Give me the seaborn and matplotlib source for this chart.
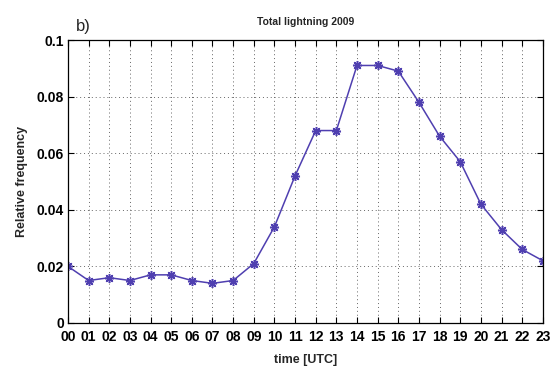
import matplotlib
matplotlib.use("Agg")
import matplotlib.pyplot as plt
import seaborn as sns
import pandas as pd

hours = ["00", "01", "02", "03", "04", "05", "06", "07", "08", "09", "10", "11",
         "12", "13", "14", "15", "16", "17", "18", "19", "20", "21", "22", "23"]
rel_freq = [0.020, 0.015, 0.016, 0.015, 0.017, 0.017, 0.015, 0.014, 0.015, 0.021,
            0.034, 0.052, 0.068, 0.068, 0.091, 0.091, 0.089, 0.078, 0.066, 0.057,
            0.042, 0.033, 0.026, 0.022]
y_ticks = [0, 0.02, 0.04, 0.06, 0.08, 0.1]
y_ticklabels = ["0", "0.02", "0.04", "0.06", "0.08", "0.1"]

sns.set_style("white")
plt.rcParams["font.family"] = ["Liberation Sans", "DejaVu Sans"]

df = pd.DataFrame({"hour": range(len(hours)), "freq": rel_freq})

fig = plt.figure(figsize=(5.55, 3.67), dpi=100)
ax = fig.add_axes([0.1225, 0.12, 0.8555, 0.771])

sns.lineplot(data=df, x="hour", y="freq", ax=ax, color="#4f3fb0", lw=1.1,
             marker=(8, 2, 0), markersize=6.5, markeredgewidth=1.1,
             markeredgecolor="#4f3fb0")

ax.set_xlim(0, 23)
ax.set_ylim(0, 0.1)
ax.set_xticks(range(len(hours)))
ax.set_xticklabels(hours)
ax.set_yticks(y_ticks)
ax.set_yticklabels(y_ticklabels)

for lab in ax.get_xticklabels() + ax.get_yticklabels():
    lab.set_fontweight("bold")
    lab.set_fontsize(10)

ax.tick_params(direction="in", length=4, width=0.8, top=True, right=True,
               bottom=True, left=True, colors="black", pad=3)
ax.tick_params(axis="x", pad=5)
ax.grid(True, linestyle=(0, (1, 3)), color="#666666", linewidth=0.7)
for s in ax.spines.values():
    s.set_color("black")
    s.set_linewidth(0.9)

ax.set_xlabel("time [UTC]", fontweight="bold", fontsize=9, labelpad=7)
ax.set_ylabel("Relative frequency", fontweight="bold", fontsize=9, labelpad=6)
ax.set_title("Total lightning 2009", fontweight="bold", fontsize=7.5, pad=11)
fig.text(0.137, 0.915, "b)", fontsize=12)

fig.savefig("out.png", dpi=100)
